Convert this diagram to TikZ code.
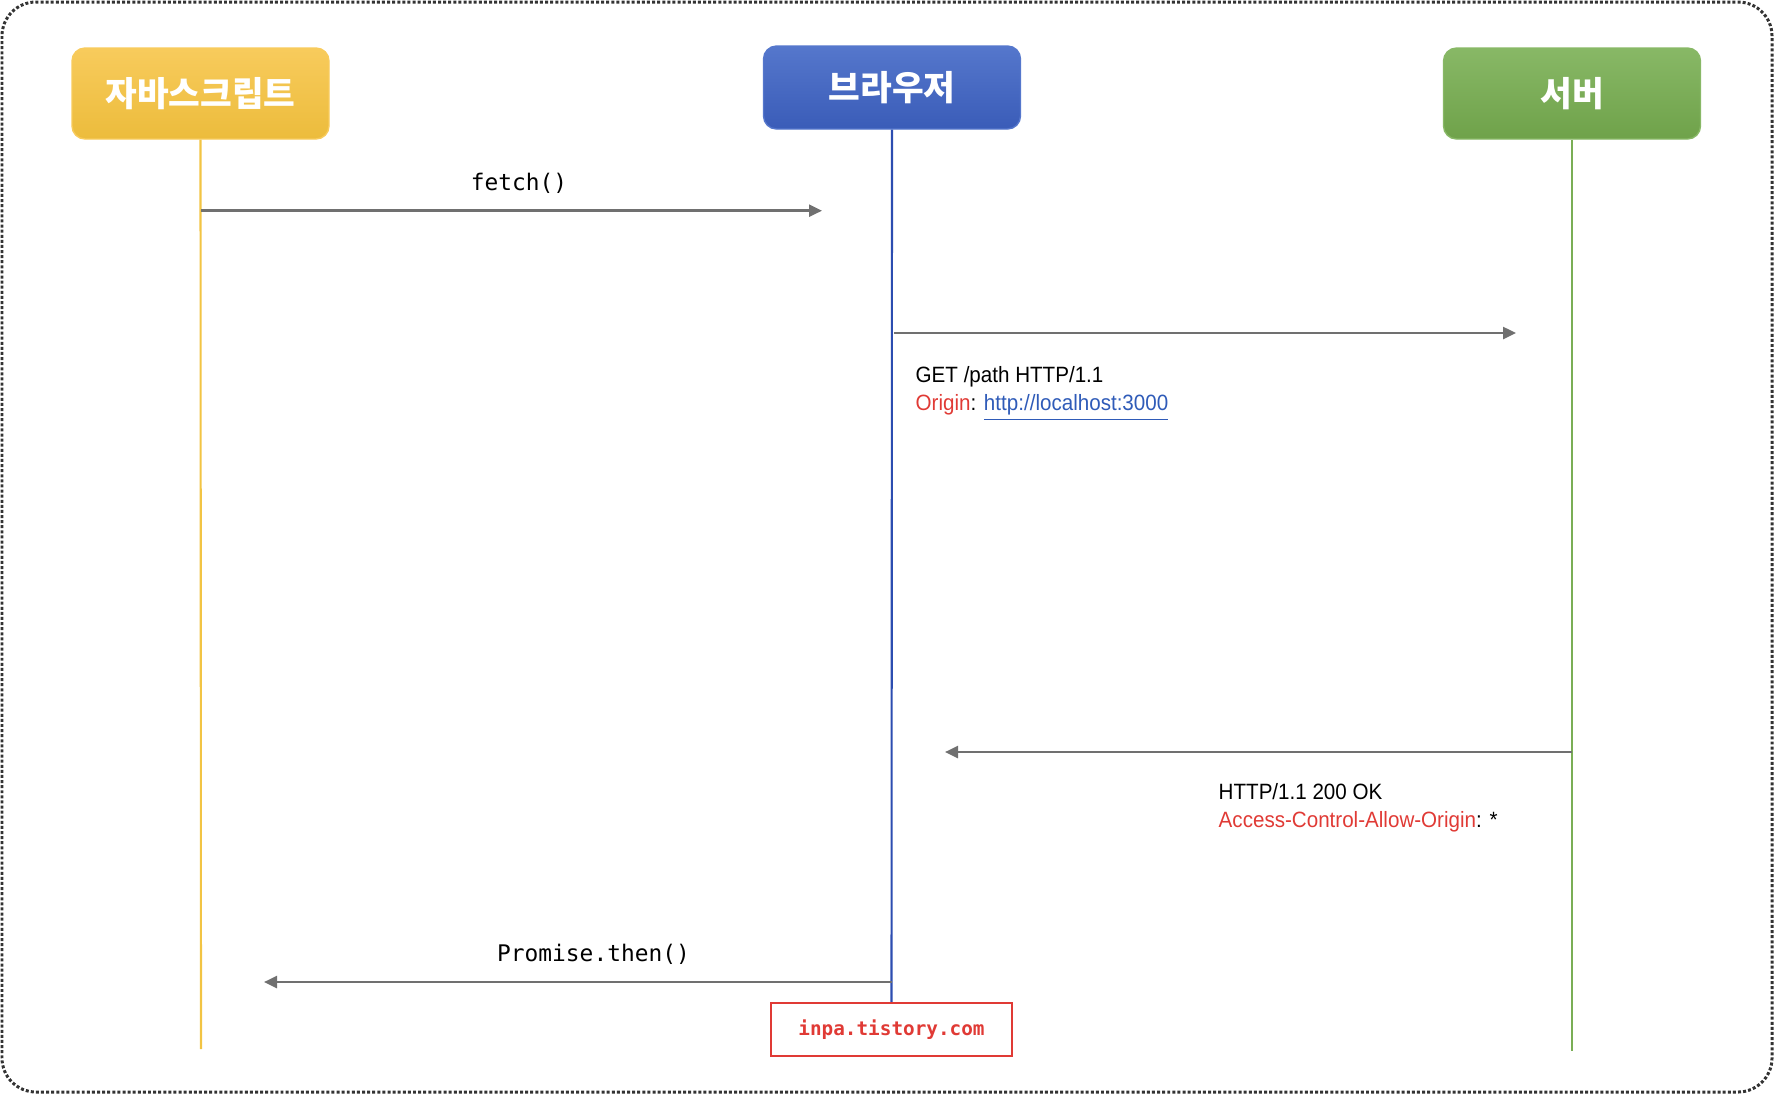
\documentclass[tikz,border=0pt]{standalone}
\usepackage{fontspec}
\setmainfont{Liberation Sans}[FakeStretch=0.93]
\setmonofont{DejaVu Sans Mono}
\newfontfamily\krfont{Noto Sans CJK KR}
\usepackage{tikz}
\usetikzlibrary{arrows.meta,calc}
\definecolor{jstop}{HTML}{F8CB5C}
\definecolor{jsbottom}{HTML}{ECBC3C}
\definecolor{jsline}{HTML}{F2C444}
\definecolor{brtop}{HTML}{5577CC}
\definecolor{brbottom}{HTML}{3A5CB8}
\definecolor{brline}{HTML}{2C4DB0}
\definecolor{svtop}{HTML}{88B866}
\definecolor{svbottom}{HTML}{6FA24A}
\definecolor{svline}{HTML}{7AAE55}
\definecolor{msggray}{HTML}{707070}
\definecolor{headred}{HTML}{E03A35}
\definecolor{linkblue}{HTML}{2F5BB8}

\tikzset{
  actor/.style={rounded corners=0.13cm,minimum width=2.57cm,minimum height=0.91cm,
    text=white,font=\krfont\bfseries\fontsize{9.8}{12}\selectfont},
  msg/.style={line width=0.7pt,msggray,-{Triangle[length=0.13cm,width=0.12cm]}},
  life/.style={line width=0.6pt},
  call/.style={font=\ttfamily\fontsize{6.5}{8}\selectfont,inner sep=0pt,anchor=base},
  header/.style={font=\fontsize{6.3}{8}\selectfont,inner sep=0pt,anchor=base west}
}

\begin{document}
\begin{tikzpicture}
  \useasboundingbox (0,0) rectangle (17.76,-10.96);
  \draw[rounded corners=0.34cm,line width=0.85pt,dash pattern=on 0.85pt off 0.6pt,black!80]
    (0.02,-0.02) rectangle (17.72,-10.92);

  \node[actor,top color=jstop,bottom color=jsbottom,draw=jstop] (js) at (2.005,-0.935) {자바스크립트};
  \node[actor,top color=brtop,bottom color=brbottom,draw=brtop,minimum height=0.83cm] (browser) at (8.92,-0.875) {브라우저};
  \node[actor,top color=svtop,bottom color=svbottom,draw=svtop] (server) at (15.72,-0.935) {서버};

  \node[draw=headred,line width=0.7pt,minimum width=2.41cm,minimum height=0.53cm,inner sep=0pt,
    text=headred,font=\ttfamily\bfseries\fontsize{5.5}{7}\selectfont] (watermark) at (8.915,-10.295) {inpa.tistory.com};

  \coordinate (js-end) at (2.01,-10.49);
  \coordinate (server-end) at (15.72,-10.51);
  \draw[life,jsline] (js.south) -- (js-end);
  \draw[life,brline] (browser.south) -- (watermark.north);
  \draw[life,svline] (server.south) -- (server-end);

  \coordinate (fetch-start) at (2.01,-2.107);
  \coordinate (fetch-end) at (8.22,-2.107);
  \coordinate (get-start) at (8.94,-3.33);
  \coordinate (get-end) at (15.16,-3.33);
  \coordinate (ok-start) at (15.72,-7.52);
  \coordinate (ok-end) at (9.45,-7.52);
  \coordinate (then-start) at (8.92,-9.82);
  \coordinate (then-end) at (2.64,-9.82);

  \draw[msg] (fetch-start) -- (fetch-end);
  \draw[msg] (get-start) -- (get-end);
  \draw[msg] (ok-start) -- (ok-end);
  \draw[msg] (then-start) -- (then-end);

  \node[call] (fetch-label) at (5.19,-1.90) {fetch()};
  \node[call] (then-label) at (5.935,-9.61) {Promise.then()};

  \node[header] (get-line) at (9.15,-3.82) {GET /path HTTP/1.1};
  \node[header] (origin-line) at (9.15,-4.10) {\textcolor{headred}{Origin}: \textcolor{linkblue}{\underline{http://localhost:3000}}};
  \node[header] (ok-line) at (12.18,-7.99) {HTTP/1.1 200 OK};
  \node[header] (acao-line) at (12.18,-8.27) {\textcolor{headred}{Access-Control-Allow-Origin}: *};
\end{tikzpicture}
\end{document}
